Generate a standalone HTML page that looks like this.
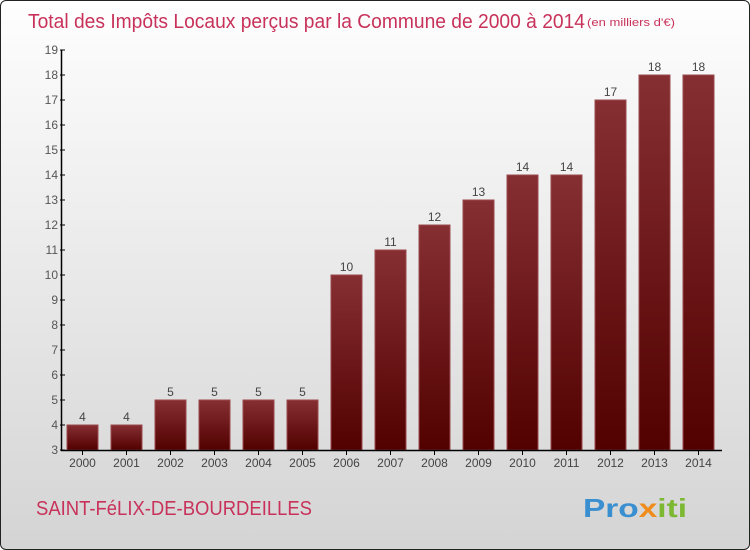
<!DOCTYPE html>
<html><head><meta charset="utf-8"><style>
body{margin:0}
#chart{position:relative;width:748px;height:548px;border:1px solid #222;border-radius:6px;overflow:hidden;background:linear-gradient(#fefefe,#d4d4d4);font-family:"Liberation Sans",sans-serif}
</style></head><body>
<div id="chart">
<svg id="svg" width="748" height="548"></svg>
</div>
<script>
const categories=["2000","2001","2002","2003","2004","2005","2006","2007","2008","2009","2010","2011","2012","2013","2014"];
const values=[4,4,5,5,5,5,10,11,12,13,14,14,17,18,18];
const yTicks=[3,4,5,6,7,8,9,10,11,12,13,14,15,16,17,18,19];
const ns="http://www.w3.org/2000/svg";
const svg=document.getElementById('svg');
function y(v){return 449-(v-3)*25;}
function x(i){return 81+i*44;}
function mk(t,a,txt){const e=document.createElementNS(ns,t);for(const k in a)e.setAttribute(k,a[k]);if(txt!==undefined)e.textContent=txt;svg.appendChild(e);return e;}
const defs=mk('defs',{});
defs.innerHTML='<linearGradient id="bg" x1="0" y1="0" x2="0" y2="1"><stop offset="0" stop-color="#862f33"/><stop offset="1" stop-color="#520000"/></linearGradient>';
let t=mk('text',{x:27,y:27,'font-size':20,fill:'#c8325a',textLength:557,lengthAdjust:'spacingAndGlyphs'},'Total des Impôts Locaux perçus par la Commune de 2000 à 2014');

t=mk('text',{x:586,y:25,'font-size':11,fill:'#c8325a',textLength:88,lengthAdjust:'spacingAndGlyphs'},'(en milliers d\'€)');

values.forEach((v,i)=>{
 const r=mk('rect',{x:x(i)-15,y:y(v),width:31,height:y(3)-y(v),fill:'url(#bg)',stroke:'#9a4a4e','stroke-width':1});
 
 const l=mk('text',{x:x(i)+0.5,y:y(v)-4,'font-size':12,fill:'#444','text-anchor':'middle'},v);
 
 const c=mk('text',{x:x(i)+0.5,y:466,'font-size':12,fill:'#444','text-anchor':'middle'},categories[i]);
 
 mk('line',{x1:x(i)+0.5,x2:x(i)+0.5,y1:449,y2:454,stroke:'#000'});
});
yTicks.forEach(v=>{
 mk('line',{x1:59,x2:64,y1:y(v),y2:y(v),stroke:'#000'});
 const l=mk('text',{x:57,y:y(v)+4,'font-size':12,fill:'#555','text-anchor':'end'},v);
 
});
let a=mk('line',{x1:60.5,x2:60.5,y1:y(19),y2:450,stroke:'#000','stroke-width':1.5});

a=mk('line',{x1:60,x2:721,y1:449.5,y2:449.5,stroke:'#000','stroke-width':1.5});

t=mk('text',{x:35,y:514,'font-size':20,fill:'#c8325a',textLength:276,lengthAdjust:'spacingAndGlyphs'},'SAINT-FéLIX-DE-BOURDEILLES');

t=mk('text',{x:582,y:516,'font-size':26,'font-weight':'bold',fill:'#3a8fd0',textLength:104,lengthAdjust:'spacingAndGlyphs'});
t.innerHTML='Pro<tspan fill="#f08c1c">x</tspan><tspan fill="#7cb832">iti</tspan>';

</script>
</body></html>
